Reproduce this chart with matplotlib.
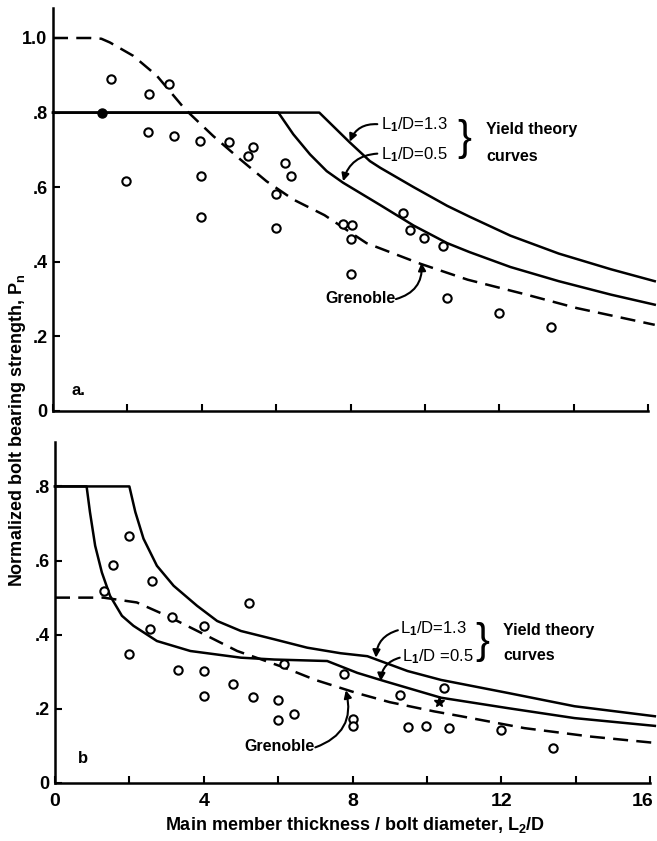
import matplotlib
matplotlib.use("Agg")
import matplotlib.pyplot as plt
import matplotlib.transforms as mtrans

plt.rcParams['font.family'] = ['Liberation Sans', 'DejaVu Sans']
plt.rcParams['font.weight'] = 'bold'
plt.rcParams['mathtext.fontset'] = 'custom'
plt.rcParams['mathtext.rm'] = 'Liberation Sans:bold'
plt.rcParams['mathtext.it'] = 'Liberation Sans:bold'

# ---- panel a data ----
a_pts_x = [1.56, 1.96, 2.58, 2.56, 3.13, 3.25, 3.95, 3.98, 3.98, 4.74, 5.25, 5.39,
           6.0, 6.0, 6.24, 6.4, 7.8, 8.05, 8.0, 8.0, 9.42, 9.6, 9.98, 10.48,
           10.6, 12.0, 13.38]
a_pts_y = [0.891, 0.616, 0.849, 0.748, 0.876, 0.737, 0.724, 0.629, 0.521, 0.721, 0.684, 0.709,
           0.581, 0.491, 0.666, 0.630, 0.502, 0.498, 0.462, 0.368, 0.531, 0.484, 0.463, 0.442,
           0.303, 0.264, 0.224]
a_filled_x = [1.31]
a_filled_y = [0.80]

a_gren_x = [0, 1.0, 1.3, 1.53, 2.16, 2.79, 3.55, 4.31, 5.03, 5.74, 6.46, 7.3, 8.43,
            9.87, 11.15, 12.73, 14.08, 16.18]
a_gren_y = [1.0, 1.0, 0.998, 0.988, 0.952, 0.899, 0.809, 0.737, 0.675, 0.616, 0.567, 0.525, 0.450,
            0.395, 0.352, 0.312, 0.276, 0.231]

a_y13_x = [0, 7.16, 7.98, 8.52, 8.8, 9.7, 10.6, 11.2, 12.3, 13.6, 15.0, 16.18]
a_y13_y = [0.8, 0.8, 0.720, 0.670, 0.652, 0.600, 0.550, 0.521, 0.470, 0.422, 0.380, 0.348]

a_y05_x = [0, 6.06, 6.46, 6.91, 7.36, 7.80, 8.25, 8.8, 9.7, 10.6, 11.2, 12.3, 13.6, 15.0, 16.18]
a_y05_y = [0.8, 0.8, 0.742, 0.688, 0.643, 0.612, 0.585, 0.552, 0.497, 0.450, 0.426, 0.386, 0.348,
           0.312, 0.285]

# ---- panel b data ----
b_pts_x = [1.32, 1.57, 1.98, 1.98, 2.62, 2.56, 3.14, 3.32, 4.0, 4.0, 4.0, 4.78, 5.21, 5.32,
           6.0, 6.0, 6.42, 6.15, 7.77, 8.0, 8.0, 9.28, 9.48, 9.97, 10.6, 10.47, 11.98, 13.4]
b_pts_y = [0.518, 0.588, 0.666, 0.347, 0.544, 0.415, 0.449, 0.304, 0.424, 0.302, 0.234, 0.266,
           0.485, 0.231, 0.225, 0.171, 0.187, 0.320, 0.293, 0.173, 0.153, 0.236, 0.151, 0.153,
           0.148, 0.257, 0.144, 0.094]
b_star_x = [10.33]
b_star_y = [0.218]

b_gren_x = [0, 1.3, 2.2, 3.01, 3.91, 4.9, 5.5, 6.2, 7.0, 8.1, 9.0, 10.2, 10.92, 12.62, 14.42, 16.04]
b_gren_y = [0.5, 0.5, 0.487, 0.451, 0.406, 0.356, 0.335, 0.31, 0.278, 0.243, 0.218, 0.193, 0.180,
            0.148, 0.125, 0.109]

b_y13_x = [0, 2.0, 2.16, 2.38, 2.74, 3.19, 3.82, 4.36, 5.0, 5.88, 6.78, 7.68, 8.40, 9.48, 10.38,
           12.17, 13.97, 16.13]
b_y13_y = [0.8, 0.8, 0.731, 0.659, 0.586, 0.532, 0.478, 0.437, 0.41, 0.388, 0.365, 0.350, 0.342,
           0.302, 0.278, 0.243, 0.207, 0.180]

b_y05_x = [0, 0.85, 0.94, 1.08, 1.26, 1.48, 1.80, 2.11, 2.74, 3.64, 5.0, 5.9, 7.32, 8.13, 8.85,
           10.38, 12.17, 13.97, 16.13]
b_y05_y = [0.8, 0.8, 0.731, 0.640, 0.568, 0.505, 0.451, 0.424, 0.383, 0.356, 0.338, 0.333, 0.329,
           0.297, 0.275, 0.230, 0.202, 0.175, 0.154]

xticks = [0, 2, 4, 6, 8, 10, 12, 14, 16]
xtick_labels = ['0', '', '4', '', '8', '', '12', '', '16']
a_yticks = [0, 0.2, 0.4, 0.6, 0.8, 1.0]
a_ytick_labels = ['0', '.2', '.4', '.6', '.8', '1.0']
b_yticks = [0, 0.2, 0.4, 0.6, 0.8]
b_ytick_labels = ['0', '.2', '.4', '.6', '.8']

fig = plt.figure(figsize=(6.57, 8.41), dpi=100)
ax1 = fig.add_axes([0.0807, 0.5113, 0.917, 0.479])
ax2 = fig.add_axes([0.0837, 0.069, 0.917, 0.4055])

LW = 1.8
dash = (6, 3.3)
circ = dict(ls='none', marker='o', ms=6, mfc='white', mec='black', mew=1.5, zorder=4)

# panel a
ax1.plot(a_y13_x, a_y13_y, color='black', lw=LW, clip_on=False)
ax1.plot(a_y05_x, a_y05_y, color='black', lw=LW, clip_on=False)
ax1.plot(a_gren_x, a_gren_y, color='black', lw=LW, dashes=dash, clip_on=False)
ax1.plot(a_pts_x, a_pts_y, **circ)
ax1.plot(a_filled_x, a_filled_y, ls='none', marker='o', ms=6.5, color='black', zorder=4)

# panel b
ax2.plot(b_y13_x, b_y13_y, color='black', lw=LW, clip_on=False)
ax2.plot(b_y05_x, b_y05_y, color='black', lw=LW, clip_on=False)
ax2.plot(b_gren_x, b_gren_y, color='black', lw=LW, dashes=dash, clip_on=False)
ax2.plot(b_pts_x, b_pts_y, **circ)
ax2.plot(b_star_x, b_star_y, ls='none', marker='*', ms=8, color='black', zorder=4)

for ax, yt, ytl, ytop in [(ax1, a_yticks, a_ytick_labels, 1.08), (ax2, b_yticks, b_ytick_labels, 0.92)]:
    ax.set_xlim(0, 16.2)
    ax.set_ylim(0, ytop)
    ax.spines['top'].set_visible(False)
    ax.spines['right'].set_visible(False)
    ax.spines['left'].set_linewidth(1.8)
    ax.spines['bottom'].set_linewidth(1.8)
    ax.spines['bottom'].set_bounds(0, 16)
    ax.set_xticks(xticks)
    ax.set_yticks(yt)
    ax.set_yticklabels(ytl)
    ax.tick_params(direction='in', length=5, width=1.5, labelsize=13)
    ax.tick_params(axis='y', pad=4)

ax1.set_xticklabels([])
ax2.set_xticklabels(xtick_labels)
ax2.tick_params(axis='x', labelsize=14, pad=7)
# nudge the last label so it stays inside the figure
shift = mtrans.ScaledTranslation(-5 / 72, 0, fig.dpi_scale_trans)
for lab in ax2.get_xticklabels():
    if lab.get_text() == '16':
        lab.set_transform(lab.get_transform() + shift)

arrow = dict(arrowstyle='-|>', color='black', lw=1.5, mutation_scale=11,
             shrinkA=0, shrinkB=0)

# annotations panel a
ax1.text(8.83, 0.769, r'L$_{\rm 1}$/D=1.3', fontsize=12, fontweight='normal', va='center')
ax1.text(8.83, 0.688, r'L$_{\rm 1}$/D=0.5', fontsize=12, fontweight='normal', va='center')
ax1.text(11.07, 0.730, '}', fontsize=30, fontweight='light', va='center', ha='center')
ax1.text(11.65, 0.755, 'Yield theory', fontsize=11.5, va='center')
ax1.text(11.65, 0.683, 'curves', fontsize=11.5, va='center')
ax1.annotate('', xy=(7.98, 0.722), xytext=(8.72, 0.769),
             arrowprops=dict(connectionstyle='arc3,rad=0.35', **arrow))
ax1.annotate('', xy=(7.80, 0.616), xytext=(8.72, 0.690),
             arrowprops=dict(connectionstyle='arc3,rad=0.35', **arrow))
ax1.text(9.2, 0.302, 'Grenoble', fontsize=11.5, ha='right', va='center')
ax1.annotate('', xy=(9.91, 0.397), xytext=(9.22, 0.300),
             arrowprops=dict(connectionstyle='arc3,rad=0.4', **arrow))
ax1.text(0.5, 0.055, 'a.', fontsize=12, va='center')

# annotations panel b
ax2.text(9.27, 0.415, r'L$_{\rm 1}$/D=1.3', fontsize=12, fontweight='normal', va='center')
ax2.text(9.33, 0.341, r'L$_{\rm 1}$/D =0.5', fontsize=12, fontweight='normal', va='center')
ax2.text(11.5, 0.380, '}', fontsize=30, fontweight='light', va='center', ha='center')
ax2.text(12.05, 0.412, 'Yield theory', fontsize=11.5, va='center')
ax2.text(12.05, 0.343, 'curves', fontsize=11.5, va='center')
ax2.annotate('', xy=(8.63, 0.338), xytext=(9.22, 0.412),
             arrowprops=dict(connectionstyle='arc3,rad=0.35', **arrow))
ax2.annotate('', xy=(8.76, 0.275), xytext=(9.27, 0.338),
             arrowprops=dict(connectionstyle='arc3,rad=0.35', **arrow))
ax2.text(6.98, 0.098, 'Grenoble', fontsize=11.5, ha='right', va='center')
ax2.annotate('', xy=(7.82, 0.25), xytext=(7.0, 0.096),
             arrowprops=dict(connectionstyle='arc3,rad=0.45', **arrow))
ax2.text(0.62, 0.065, 'b', fontsize=12, va='center')

fig.text(0.026, 0.488, r'Normalized bolt bearing strength, P$_{\rm n}$', rotation=90,
         fontsize=13, ha='center', va='center')
fig.text(0.54, 0.019, r'Main member thickness / bolt diameter, L$_{\rm 2}$/D',
         fontsize=13, ha='center', va='center')

fig.savefig('out.png', dpi=100)
